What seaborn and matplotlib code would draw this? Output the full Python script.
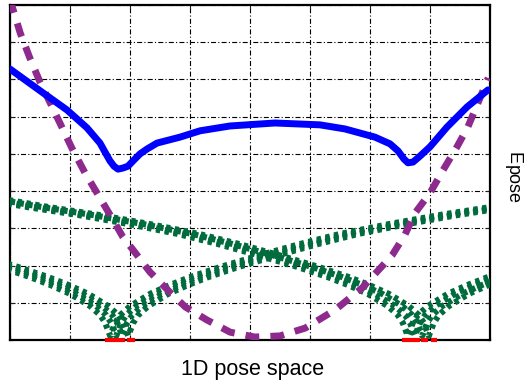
import numpy as np
import pandas as pd
import matplotlib
matplotlib.use("Agg")
import matplotlib.pyplot as plt
import seaborn as sns

# ---- data -------------------------------------------------------------
# Total pose energy (solid blue)
total_x = [0.000, 0.550, 0.950, 1.283, 1.500, 1.583, 1.667, 1.733, 1.800,
           1.883, 1.967, 2.050, 2.167, 2.283, 2.450, 2.833, 3.167, 3.667,
           4.417, 5.167, 5.583, 5.833, 6.083, 6.333, 6.467, 6.567, 6.633,
           6.717, 6.833, 7.000, 7.283, 7.617, 7.967]
total_y = [7.28, 6.64, 6.18, 5.70, 5.29, 5.05, 4.81, 4.67, 4.59,
           4.62, 4.67, 4.81, 5.00, 5.13, 5.29, 5.45, 5.62, 5.75,
           5.83, 5.78, 5.67, 5.56, 5.45, 5.27, 5.08, 4.86, 4.76,
           4.78, 4.94, 5.19, 5.72, 6.26, 6.72]

# Prior term (dashed purple)
prior_x = [0.00, 0.17, 0.33, 0.50, 0.67, 0.87, 1.03, 1.25, 1.72, 1.88, 2.08,
           2.33, 2.63, 2.92, 3.28, 3.67, 4.08, 4.50, 4.92, 5.42, 5.87, 6.37,
           6.58, 6.75, 7.00, 7.22, 7.45, 7.63, 7.80, 7.97]
prior_y = [9.15, 8.25, 7.58, 6.93, 6.37, 5.70, 5.16, 4.49, 3.22, 2.77, 2.36,
           1.83, 1.34, 0.89, 0.54, 0.21, 0.08, 0.11, 0.32, 0.81, 1.40, 2.28,
           2.82, 3.41, 3.95, 4.57, 5.19, 5.72, 6.37, 7.04]

# Per-observation energy vs. distance from its best pose (dotted green)
obs_dist = [0.000, 0.083, 0.167, 0.333, 0.667, 1.000, 1.333, 1.833, 2.500,
            3.167, 3.833, 4.667, 5.500, 6.333, 7.000]
obs_energy = [0.11, 0.46, 0.67, 0.91, 1.24, 1.48, 1.69, 1.96, 2.28,
              2.58, 2.85, 3.12, 3.36, 3.57, 3.76]
obs_best_left = [1.67, 1.77, 1.87, 1.97]
obs_best_right = [6.63, 6.75, 6.87, 6.98]

# Detected pose ranges along the axis (red)
range_start = [1.58, 1.95, 6.53, 6.85, 7.02]
range_end = [1.92, 2.08, 6.83, 6.97, 7.12]

# ---- style ------------------------------------------------------------
sns.set_theme(style="white")
plt.rcParams["font.family"] = ["Liberation Sans", "DejaVu Sans"]
plt.rcParams["text.color"] = "black"

BLUE = "#0000ff"
PURPLE = "#8e2a8e"
GREEN = "#006b3c"
RED = "#ff0000"

fig = plt.figure(figsize=(5.24, 3.80), dpi=100)
ax = fig.add_axes([10 / 524, 40 / 380, 480 / 524, 335 / 380])

ax.set_xlim(0, 8)
ax.set_ylim(0, 9)
ax.set_xticks(np.arange(0, 9, 1))
ax.set_yticks(np.arange(0, 10, 1))
ax.tick_params(which="both", direction="in", length=3, width=0.8,
               labelleft=False, labelbottom=False,
               left=True, bottom=True, right=True, top=True)
ax.grid(True, color="black", linewidth=0.8, linestyle=(0, (4.5, 2, 1, 2)))
ax.set_axisbelow(True)
for side in ax.spines.values():
    side.set_color("black")
    side.set_linewidth(1.6)

# observation curves
for centres in (obs_best_left, obs_best_right):
    for c in centres:
        d = np.asarray(obs_dist)
        e = np.asarray(obs_energy)
        xs = np.concatenate([c - d[::-1], c + d[1:]])
        ys = np.concatenate([e[::-1], e[1:]])
        df = pd.DataFrame({"pose": xs, "energy": ys})
        sns.lineplot(data=df, x="pose", y="energy", ax=ax, color=GREEN,
                     linewidth=4.4, linestyle=(0, (0.7, 0.75)),
                     estimator=None, sort=False, zorder=3)

# prior
sns.lineplot(x=prior_x, y=prior_y, ax=ax, color=PURPLE, linewidth=5,
             linestyle=(0, (2.0, 1.6)), estimator=None, sort=False, zorder=4)

# total energy
sns.lineplot(x=total_x, y=total_y, ax=ax, color=BLUE, linewidth=5,
             estimator=None, sort=False, zorder=5,
             solid_joinstyle="round", solid_capstyle="round")

# pose ranges on the axis
ax.hlines([0] * len(range_start), range_start, range_end, colors=RED,
          linewidth=3, zorder=6, clip_on=False)

ax.set_xlabel("")
ax.set_ylabel("")

fig.text(253 / 524, (380 - 375) / 380, "1D pose space", fontsize=15.5,
         color="black", ha="center", va="baseline")
fig.text(513.3 / 524, (380 - 158.5) / 380, "E", rotation=270, fontsize=13,
         color="black", ha="center", va="center")
fig.text(512.3 / 524, (380 - 185) / 380, "pose", rotation=270, fontsize=13,
         color="black", ha="center", va="center")

fig.savefig("out.png", dpi=100)
